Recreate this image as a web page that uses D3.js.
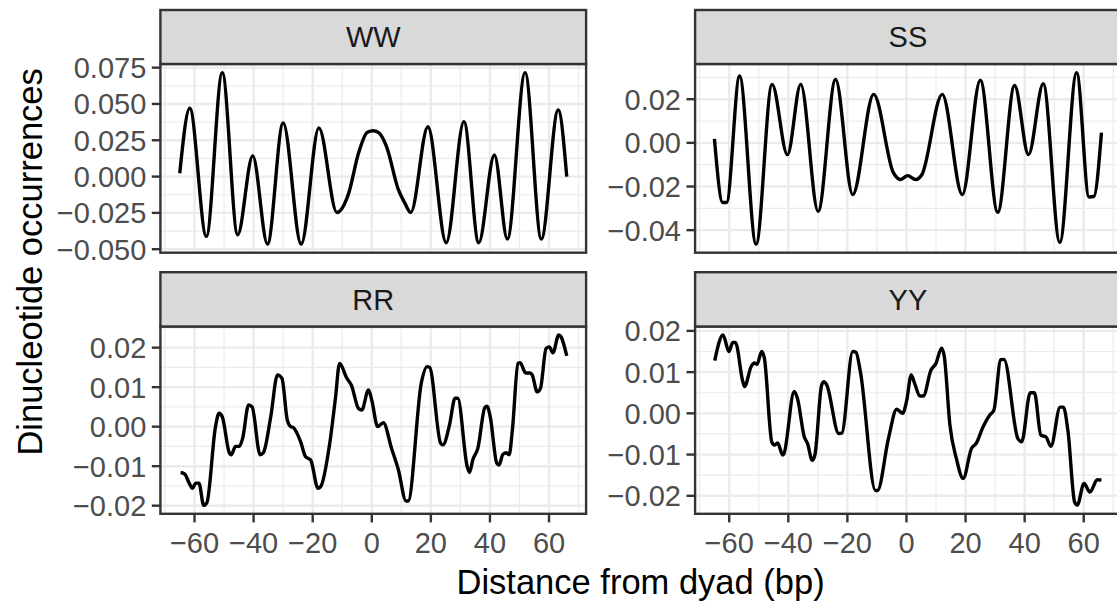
<!DOCTYPE html>
<html>
<head>
<meta charset="utf-8">
<script src="https://cdn.jsdelivr.net/npm/d3@7"></script>
<style>
  body { margin: 0; background: #fff; }
  svg { display: block; font-family: "Liberation Sans", Arial, sans-serif; }
</style>
</head>
<body>
<svg id="chart"></svg>
<script>
// facet names
var panelNames = ["WW", "SS", "RR", "YY"];

// shared x axis
var xTicks = [-60, -40, -20, 0, 20, 40, 60];
var xTickLabels = ["\u221260", "\u221240", "\u221220", "0", "20", "40", "60"];

// y ticks for each facet
var wwTicks = [-0.05, -0.025, 0, 0.025, 0.05, 0.075];
var wwTickLabels = ["\u22120.050", "\u22120.025", "0.000", "0.025", "0.050", "0.075"];
var ssTicks = [-0.04, -0.02, 0, 0.02];
var ssTickLabels = ["\u22120.04", "\u22120.02", "0.00", "0.02"];
var rrTicks = [-0.02, -0.01, 0, 0.01, 0.02];
var rrTickLabels = ["\u22120.02", "\u22120.01", "0.00", "0.01", "0.02"];
var yyTicks = [-0.02, -0.01, 0, 0.01, 0.02];
var yyTickLabels = ["\u22120.02", "\u22120.01", "0.00", "0.01", "0.02"];

// values (distance from dyad, occurrence)
var wwX = [-65, -61.6, -56, -50.6, -45.4, -40.3, -35.3, -30, -23.9, -17.9, -11.8, -7.8, -4.5, -1.5, 0.6, 2.5, 5, 9, 11.2, 13.2,
           19, 25.2, 31.2, 36.2, 41.5, 45.9, 51.9, 57.4, 63.1, 66];
var wwY = [0.0023, 0.047, -0.0412, 0.0716, -0.040, 0.0142, -0.0465, 0.037, -0.0465, 0.0335, -0.0247, -0.0114, 0.016, 0.0305, 0.0316, 0.0300, 0.0206, -0.009, -0.0183, -0.0247,
           0.0343, -0.0456, 0.0378, -0.0456, 0.0149, -0.043, 0.0716, -0.043, 0.0458, 0.0];

var ssX = [-65, -62.2, -60.9, -56.5, -50.9, -45.5, -40.3, -35.8, -29.9, -24, -18.2, -11.1, -4.4, -2.1, 0.4, 3.1, 5.2,
           12.1, 18.9, 25, 30.9, 36.6, 41.3, 46.3, 51.9, 57.6, 61.8, 63.4, 66];
var ssY = [0.0018, -0.0273, -0.0273, 0.0306, -0.0464, 0.0268, -0.0054, 0.0268, -0.0314, 0.029, -0.0237, 0.0222, -0.0138, -0.0168, -0.015, -0.0168, -0.0146,
           0.0222, -0.0237, 0.0287, -0.0318, 0.0263, -0.0054, 0.0271, -0.0456, 0.0322, -0.0248, -0.0246, 0.0047];

var rrX = [-64.7, -63.3, -61.8, -60.7, -59.6, -58.5, -56.9, -55.8, -52.9, -51.7, -50.6, -48.2, -47.6, -46.1, -44.8, -43.7,
           -41.7, -40.5, -37.8, -36.7, -34.2, -31.9, -30.4, -28.6, -27.4, -26.6, -24.1, -22.4, -20.7, -18.2, -17.3,
           -14.3, -12.3, -10.9, -8.4, -6.9, -4.5, -3.4, -1.1, 0, 2, 3.9, 6.7, 9, 11.6, 12.3, 16.8, 18.7, 19.6,
           23.3, 24.1, 26.3, 28.2, 29.1, 32.3, 33.1, 34.2, 35.9, 38.3, 39, 40.1, 42.3, 43.1, 44.3, 45.4, 46.5,
           47.6, 49.5, 50.2, 52.1, 53.6, 54.3, 56, 57.1, 59, 60.1, 61.3, 63.3, 64.1, 66];
var rrY = [-0.0116, -0.012, -0.0143, -0.0156, -0.0143, -0.0143, -0.0199, -0.0192, 0.0, 0.0034, 0.0025, -0.0067, -0.0071, -0.005, -0.005, -0.0029,
           0.0055, 0.005, -0.0071, -0.0066, 0.0025, 0.0131, 0.0122, 0.0017, 0.0, -0.0002, -0.0038, -0.0076, -0.0084, -0.0156, -0.0152,
           -0.0046, 0.0072, 0.016, 0.0122, 0.0105, 0.0046, 0.0042, 0.0093, 0.0067, 0.0, 0.001, -0.0055, -0.0109, -0.0188, -0.0188, 0.0112, 0.0152, 0.015,
           -0.0042, -0.0046, 0.0004, 0.0072, 0.0072, -0.0101, -0.0116, -0.0084, -0.0055, 0.0049, 0.0052, 0.0025, -0.0092, -0.0097, -0.0071, -0.0066, -0.0071,
           -0.0008, 0.016, 0.0162, 0.0136, 0.0136, 0.0131, 0.0088, 0.0097, 0.0198, 0.0202, 0.0187, 0.0232, 0.0227, 0.0179];

var yyX = [-64.9, -62.1, -60.1, -58.8, -57.9, -55.4, -54.8, -52.6, -51.5, -50.6, -49, -48.1, -45.6, -44.7, -43.6, -41.9, -41.5,
           -38, -36.9, -34.6, -33.5, -31.9, -31, -28.7, -27.9, -27, -22.9, -21.9, -18.2, -17.1, -15.6, -10.5, -9.8,
           -6.1, -3.3, -1.3, 0.1, 1.6, 2.7, 4.6, 5.7, 8.3, 9.9, 11.9, 12.8, 14.7, 16.9, 19.2, 22, 23.6, 25.9, 28.2, 29.6,
           31.9, 33, 37.7, 39, 41.9, 43.3, 45.5, 47.2, 48.9, 52, 53.1, 54.7, 56.9, 57.8, 60.1, 62.1, 64.6, 66];
var yyY = [0.0128, 0.019, 0.015, 0.0172, 0.0172, 0.0077, 0.0065, 0.0113, 0.0122, 0.0119, 0.015, 0.0134, -0.0069, -0.0077, -0.0072, -0.0101, -0.0098,
           0.0053, 0.0036, -0.0057, -0.0073, -0.0114, -0.0101, 0.0069, 0.0077, 0.0069, -0.0049, -0.0048, 0.015, 0.0148, 0.0101, -0.0187, -0.0187,
           -0.0061, 0.001, 0.0, 0.0032, 0.0093, 0.0074, 0.0042, 0.0042, 0.0105, 0.012, 0.0158, 0.0138, -0.0028, -0.011, -0.0158, -0.0085, -0.0073, -0.0033, -0.0004, 0.0008,
           0.013, 0.0131, -0.0061, -0.0069, 0.005, 0.005, -0.0053, -0.0057, -0.008, 0.0015, 0.0015, -0.0045, -0.0215, -0.0223, -0.017, -0.0191, -0.0161, -0.0162];

var panels = [
  {name: panelNames[0], xs: wwX, ys: wwY, ticks: wwTicks, labels: wwTickLabels, col: 0, row: 0},
  {name: panelNames[1], xs: ssX, ys: ssY, ticks: ssTicks, labels: ssTickLabels, col: 1, row: 0},
  {name: panelNames[2], xs: rrX, ys: rrY, ticks: rrTicks, labels: rrTickLabels, col: 0, row: 1},
  {name: panelNames[3], xs: yyX, ys: yyY, ticks: yyTicks, labels: yyTickLabels, col: 1, row: 1}
];

var W = 1117, H = 604;
var colLeft = [160.4, 695.1], panelW = 425.7;
var rows = [{strip: 10, top: 64, bottom: 252.7}, {strip: 272.2, top: 326.5, bottom: 513.8}];
var tickLen = 8.6, tickFont = 29;

var svg = d3.select("#chart").attr("width", W).attr("height", H);
svg.append("rect").attr("width", W).attr("height", H).attr("fill", "#fff");

function pad(ext) {
  var d = (ext[1] - ext[0]) * 0.05;
  return [ext[0] - d, ext[1] + d];
}

var xDom = pad([-65, 66]);

panels.forEach(function(p) {
  var left = colLeft[p.col], r = rows[p.row];
  var x = d3.scaleLinear().domain(xDom).range([left, left + panelW]);
  var y = d3.scaleLinear().domain(pad(d3.extent(p.ys))).range([r.bottom, r.top]);
  var g = svg.append("g");

  // grid
  var step = p.ticks[1] - p.ticks[0];
  var yMinor = [];
  for (var v = p.ticks[0] - step / 2; v < y.domain()[1]; v += step) {
    if (v > y.domain()[0]) yMinor.push(v);
  }
  var xMinor = [];
  for (var u = -70; u <= 70; u += 20) xMinor.push(u);

  g.selectAll(".ymin").data(yMinor).enter().append("line")
    .attr("x1", left).attr("x2", left + panelW)
    .attr("y1", function(d) { return y(d); }).attr("y2", function(d) { return y(d); })
    .attr("stroke", "#EBEBEB").attr("stroke-width", 1.2);
  g.selectAll(".xmin").data(xMinor).enter().append("line")
    .attr("y1", r.top).attr("y2", r.bottom)
    .attr("x1", function(d) { return x(d); }).attr("x2", function(d) { return x(d); })
    .attr("stroke", "#EBEBEB").attr("stroke-width", 1.2);
  g.selectAll(".ymaj").data(p.ticks).enter().append("line")
    .attr("x1", left).attr("x2", left + panelW)
    .attr("y1", function(d) { return y(d); }).attr("y2", function(d) { return y(d); })
    .attr("stroke", "#EBEBEB").attr("stroke-width", 2.4);
  g.selectAll(".xmaj").data(xTicks).enter().append("line")
    .attr("y1", r.top).attr("y2", r.bottom)
    .attr("x1", function(d) { return x(d); }).attr("x2", function(d) { return x(d); })
    .attr("stroke", "#EBEBEB").attr("stroke-width", 2.4);

  // the series
  var pts = p.xs.map(function(d, i) { return [d, p.ys[i]]; });
  g.append("path").datum(pts)
    .attr("fill", "none").attr("stroke", "#000").attr("stroke-width", 3.4)
    .attr("stroke-linejoin", "round")
    .attr("d", d3.line().x(function(d) { return x(d[0]); }).y(function(d) { return y(d[1]); }).curve(d3.curveMonotoneX));

  // border
  g.append("rect").attr("x", left).attr("y", r.top).attr("width", panelW).attr("height", r.bottom - r.top)
    .attr("fill", "none").attr("stroke", "#333").attr("stroke-width", 2.4);

  // strip
  g.append("rect").attr("x", left).attr("y", r.strip).attr("width", panelW).attr("height", r.top - r.strip)
    .attr("fill", "#D9D9D9").attr("stroke", "#333").attr("stroke-width", 2.4);
  g.append("text").attr("x", left + panelW / 2).attr("y", (r.strip + r.top) / 2)
    .attr("dy", "0.36em").attr("text-anchor", "middle")
    .attr("font-size", tickFont).attr("fill", "#1A1A1A").text(p.name);

  // y axis
  g.selectAll(".yt").data(p.ticks).enter().append("line")
    .attr("x1", left - tickLen).attr("x2", left)
    .attr("y1", function(d) { return y(d); }).attr("y2", function(d) { return y(d); })
    .attr("stroke", "#333").attr("stroke-width", 2.4);
  g.selectAll(".yl").data(p.ticks).enter().append("text")
    .attr("x", left - tickLen - 5.5)
    .attr("y", function(d) { return y(d); }).attr("dy", "0.36em")
    .attr("text-anchor", "end").attr("font-size", tickFont).attr("fill", "#4D4D4D")
    .text(function(d, i) { return p.labels[i]; });

  // x axis only on the bottom row
  if (p.row === 1) {
    g.selectAll(".xt").data(xTicks).enter().append("line")
      .attr("y1", r.bottom).attr("y2", r.bottom + tickLen)
      .attr("x1", function(d) { return x(d); }).attr("x2", function(d) { return x(d); })
      .attr("stroke", "#333").attr("stroke-width", 2.4);
    g.selectAll(".xl").data(xTicks).enter().append("text")
      .attr("x", function(d) { return x(d); }).attr("y", r.bottom + 39)
      .attr("text-anchor", "middle").attr("font-size", tickFont).attr("fill", "#4D4D4D")
      .text(function(d, i) { return xTickLabels[i]; });
  }
});

// axis titles
svg.append("text").attr("x", (colLeft[0] + colLeft[1] + panelW) / 2).attr("y", 594)
  .attr("text-anchor", "middle").attr("font-size", 34.5).attr("fill", "#000")
  .text("Distance from dyad (bp)");
svg.append("text").attr("transform", "translate(42," + (rows[0].strip + rows[1].bottom) / 2 + ") rotate(-90)")
  .attr("text-anchor", "middle").attr("font-size", 34.5).attr("fill", "#000")
  .text("Dinucleotide occurrences");
</script>
</body>
</html>
